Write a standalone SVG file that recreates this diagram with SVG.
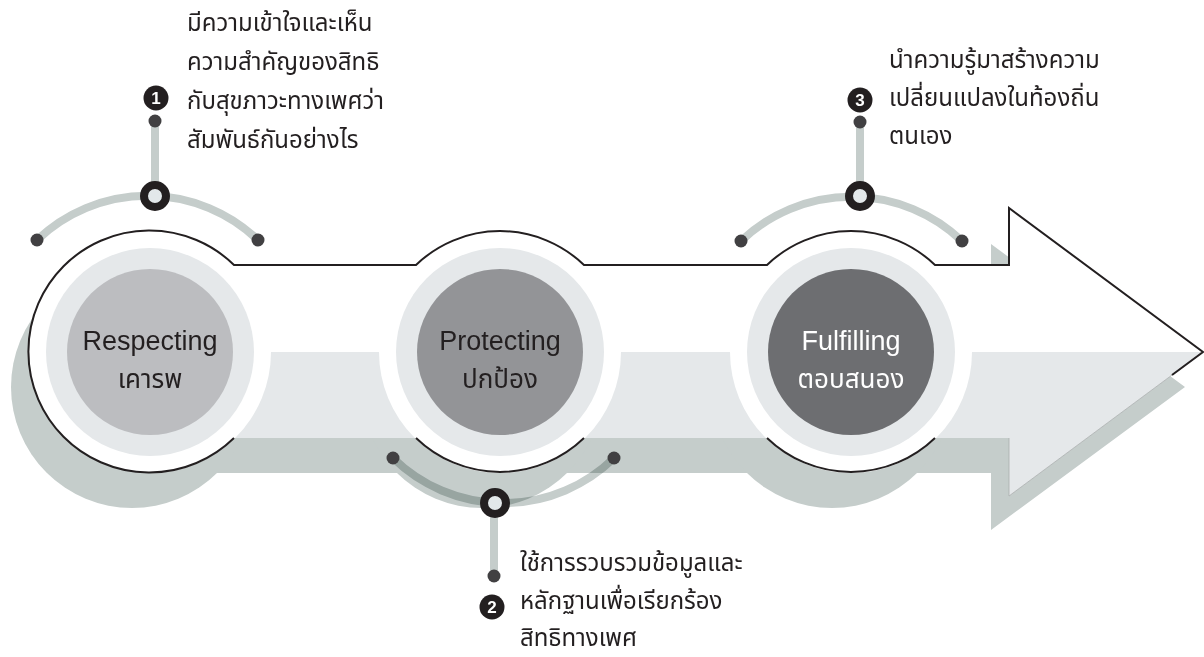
<svg xmlns="http://www.w3.org/2000/svg" width="1204" height="657" viewBox="0 0 1204 657">
<style>
.shadow{fill:#c5cdcb}
.disc{fill:#ffffff}
.ring{fill:#e5e8ea}
.outline{fill:none;stroke:#231f20;stroke-width:2;stroke-linejoin:miter}
.arc{fill:none;stroke:#c5cdcb;stroke-width:8;stroke-linecap:butt}
.arcm{fill:none;stroke:#c5cdcb;stroke-width:8;mix-blend-mode:multiply}
.dot{fill:#414042}
.knob{fill:#e3e8ea;stroke:#231f20;stroke-width:8}
.num{fill:#231f20}
.numt{fill:#ffffff;font-family:"Liberation Sans",Arial,sans-serif;font-weight:bold;font-size:17px;text-anchor:middle}
.lbl{font-family:"Liberation Sans",Arial,sans-serif;font-size:27px;text-anchor:middle}
.lblth{font-family:"Noto Sans Thai","Noto Sans",sans-serif;font-size:26px;text-anchor:middle}
.th{fill:#231f20;font-family:"Noto Sans Thai","Noto Sans","DejaVu Sans",sans-serif;font-size:24px}
</style>

<!-- shadow -->
<g id="shadow">
  <path class="shadow" d="M132,300 L991,300 L991,244 L1185,387 L991,530 L991,473 L132,473 Z"/>
  <circle class="shadow" cx="132" cy="387" r="121"/>
  <circle class="shadow" cx="482" cy="387" r="121"/>
  <circle class="shadow" cx="832" cy="387" r="121"/>
</g>

<!-- main arrow body -->
<g id="arrow">
  <path fill="#ffffff" d="M150,265 L1009,265 L1009,208 L1203,352 L1009,496 L1009,438 L150,438 Z"/>
  <path fill="#e5e8ea" d="M150,352 L1203,352 L1009,496 L1009,438 L150,438 Z"/>
  <path fill="none" stroke="#a9adad" stroke-width="0.8" d="M1172,375 L1009,496 L1009,438"/>
</g>

<g id="node-respecting">
  <circle class="disc" cx="150" cy="352" r="121"/>
  <circle class="ring" cx="150" cy="352" r="104"/>
  <circle fill="#bcbdc0" cx="150" cy="352" r="83"/>
  <text class="lbl" x="150" y="350" fill="#231f20">Respecting</text>
  <text class="lblth" x="150" y="388" fill="#231f20">เคารพ</text>
</g>

<g id="node-protecting">
  <circle class="disc" cx="500" cy="352" r="121"/>
  <circle class="ring" cx="500" cy="352" r="104"/>
  <circle fill="#939497" cx="500" cy="352" r="83"/>
  <text class="lbl" x="500" y="350" fill="#231f20">Protecting</text>
  <text class="lblth" x="500" y="388" fill="#231f20">ปกป้อง</text>
</g>

<g id="node-fulfilling">
  <circle class="disc" cx="851" cy="352" r="121"/>
  <circle class="ring" cx="851" cy="352" r="104"/>
  <circle fill="#6d6e71" cx="851" cy="352" r="83"/>
  <text class="lbl" x="851" y="350" fill="#ffffff">Fulfilling</text>
  <text class="lblth" x="851" y="388" fill="#ffffff">ตอบสนอง</text>
</g>

<!-- outline -->
<g id="outline">
  <path class="outline" d="M234,438 A121,121 0 1 1 234,265 L416,265 A121,121 0 0 1 584,265 L767,265 A121,121 0 0 1 935,265 L1009,265 L1009,208 L1203,352 L1172,375"/>
  <path class="outline" d="M416,438 A121,121 0 0 0 584,438"/>
  <path class="outline" d="M767,438 A121,121 0 0 0 935,438"/>
</g>

<g id="connectors">
  <path class="arc" d="M37,240 A160,160 0 0 1 258,240"/>
  <line class="arc" x1="155" y1="196" x2="155" y2="121"/>
  <circle class="dot" cx="37" cy="240" r="6.5"/>
  <circle class="dot" cx="258" cy="240" r="6.5"/>
  <circle class="dot" cx="155" cy="121" r="6.5"/>
  <circle class="knob" cx="155" cy="196" r="11"/>

  <path class="arcm" d="M393,458 A158,158 0 0 0 614,458"/>
  <line class="arc" x1="494" y1="503" x2="494" y2="576"/>
  <circle class="dot" cx="393" cy="458" r="6.5"/>
  <circle class="dot" cx="614" cy="458" r="6.5"/>
  <circle class="dot" cx="494" cy="576" r="6.5"/>
  <circle class="knob" cx="495" cy="503" r="11"/>

  <path class="arc" d="M741,241 A160,160 0 0 1 962,241"/>
  <line class="arc" x1="860" y1="196" x2="860" y2="122"/>
  <circle class="dot" cx="741" cy="241" r="6.5"/>
  <circle class="dot" cx="962" cy="241" r="6.5"/>
  <circle class="dot" cx="860" cy="122" r="6.5"/>
  <circle class="knob" cx="860" cy="196" r="11"/>
</g>

<g id="label-1">
  <circle class="num" cx="156" cy="98" r="12.5"/>
  <text class="numt" x="156" y="104">1</text>
  <text class="th" x="187" y="31">มีความเข้าใจและเห็น</text>
  <text class="th" x="187" y="70">ความสำคัญของสิทธิ</text>
  <text class="th" x="187" y="109">กับสุขภาวะทางเพศว่า</text>
  <text class="th" x="187" y="148">สัมพันธ์กันอย่างไร</text>
</g>

<g id="label-2">
  <circle class="num" cx="492" cy="607" r="12.5"/>
  <text class="numt" x="492" y="613">2</text>
  <text class="th" x="520" y="571">ใช้การรวบรวมข้อมูลและ</text>
  <text class="th" x="520" y="609">หลักฐานเพื่อเรียกร้อง</text>
  <text class="th" x="520" y="646">สิทธิทางเพศ</text>
</g>

<g id="label-3">
  <circle class="num" cx="860" cy="100" r="12.5"/>
  <text class="numt" x="860" y="106">3</text>
  <text class="th" x="889" y="68">นำความรู้มาสร้างความ</text>
  <text class="th" x="889" y="106">เปลี่ยนแปลงในท้องถิ่น</text>
  <text class="th" x="889" y="144">ตนเอง</text>
</g>
</svg>
